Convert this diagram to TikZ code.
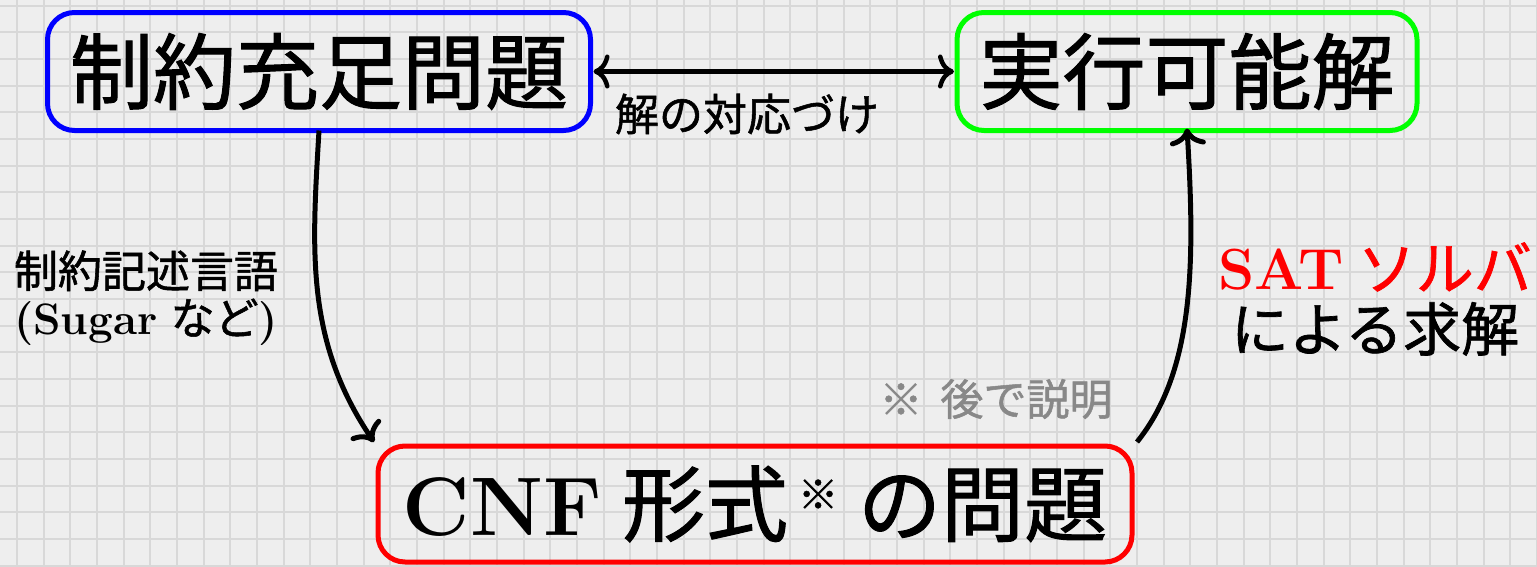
\documentclass[tikz,border=0pt]{standalone}
\usepackage{fontspec}
\newfontfamily\jp[FakeBold=1.2]{Noto Sans CJK JP}
\usetikzlibrary{arrows.meta,calc}
\definecolor{bgc}{HTML}{EEEEEE}
\definecolor{gridc}{HTML}{D8D8D8}
\definecolor{txtgray}{HTML}{888888}
\begin{document}
\begin{tikzpicture}[x=1pt,y=-1pt,
  box/.style={draw, line width=5pt, rounded corners=27pt, inner sep=0pt, outer sep=0pt},
  bigtext/.style={font=\fontsize{83}{90}\selectfont},
  conn/.style={line width=5pt, draw=black},
  myarrow/.style={-{Computer Modern Rightarrow[length=17pt,width=36pt]}},
  mydarrow/.style={{Computer Modern Rightarrow[length=16pt,width=34pt]}-{Computer Modern Rightarrow[length=16pt,width=34pt]}},
  gridline/.style={draw=gridc, line width=2pt}
]
\fill[bgc] (0,0) rectangle (1537,566);
\useasboundingbox (0,0) rectangle (1537,566);
\foreach \i in {0,...,57} \draw[gridline] ({17+26.667*\i},0) -- ({17+26.667*\i},566);
\foreach \j in {0,...,21} \draw[gridline] (0,{5.5+26.667*\j}) -- (1537,{5.5+26.667*\j});

\node[box, draw=blue, minimum width=543pt, minimum height=118pt, bigtext] (blue) at (319,71.5) {\jp 制約充足問題};
\node[box, draw=green, minimum width=460pt, minimum height=118pt, bigtext] (green) at (1187,71.5) {\jp 実行可能解};
\node[box, draw=red, minimum width=754pt, minimum height=116pt, bigtext] (red) at (755,504) {{\bfseries CNF}\hspace{20pt}{\jp 形式}\hspace{10pt}\raisebox{26pt}[0pt][0pt]{\fontsize{40}{40}\selectfont\jp ※}\hspace{20pt}{\jp の問題}};

\node[font=\fontsize{44}{47}\selectfont\jp] (lab1) at (747,114) {解の対応づけ};
\node[align=center, font=\fontsize{44}{47}\selectfont] (lab2) at (146,298) {{\jp 制約記述言語}\\{\bfseries (Sugar} {\jp など}{\bfseries )}};
\node[align=center, font=\fontsize{58}{61}\selectfont] (lab3) at (1375,299) {{\color{red}\bfseries SAT\hspace{14pt}\mdseries\jp ソルバ}\\{\jp による求解}};
\node[text=txtgray, font=\fontsize{43}{44}\selectfont\jp] (lab4) at (996,399) {※\hspace{18pt}後で説明};

\coordinate (lend) at ($(red.north west)+(-4,-4)$);
\coordinate (rstart) at ($(red.north east)+(5,-4)$);

\draw[conn, line width=4.5pt, mydarrow] ($(blue.east)+(3,0)$) -- ($(green.west)+(-3,0)$);
\draw[conn, myarrow] (blue.south) .. controls (312,250) and (305,340) .. (lend);
\draw[conn, myarrow] (rstart) .. controls (1195,370) and (1195,260) .. ($(green.south)+(0,-2)$);
\end{tikzpicture}
\end{document}
